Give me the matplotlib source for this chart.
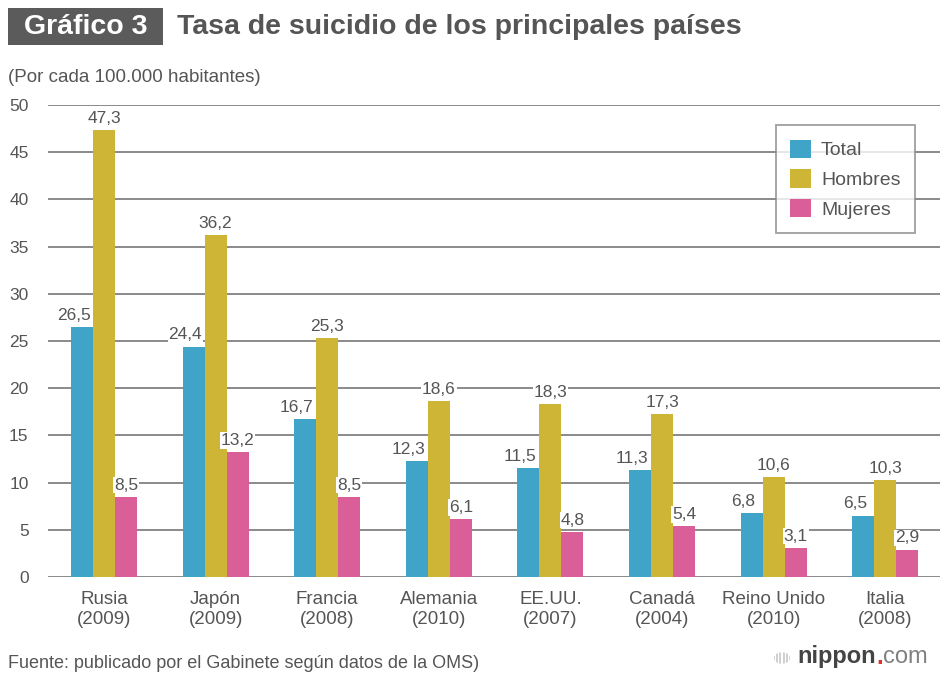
import matplotlib
matplotlib.use("Agg")
import matplotlib.pyplot as plt
from matplotlib.patches import Rectangle, Circle
import numpy as np

plt.rcParams['font.family'] = ['Liberation Sans', 'DejaVu Sans']

# data
paises = ["Rusia\n(2009)", "Japón\n(2009)", "Francia\n(2008)", "Alemania\n(2010)",
          "EE.UU.\n(2007)", "Canadá\n(2004)", "Reino Unido\n(2010)", "Italia\n(2008)"]
total = [26.5, 24.4, 16.7, 12.3, 11.5, 11.3, 6.8, 6.5]
hombres = [47.3, 36.2, 25.3, 18.6, 18.3, 17.3, 10.6, 10.3]
mujeres = [8.5, 13.2, 8.5, 6.1, 4.8, 5.4, 3.1, 2.9]
yticks = [0, 5, 10, 15, 20, 25, 30, 35, 40, 45, 50]

c_total = "#40a4c8"
c_hom = "#ceb535"
c_muj = "#da5f99"
gris = "#555555"

fig = plt.figure(figsize=(9.41, 6.75), dpi=100)
ax = fig.add_axes([48/941, 98/675, 892/941, 472/675])

x = np.arange(len(paises))
w = 0.197
series = [(total, c_total, "Total", -w, -6), (hombres, c_hom, "Hombres", 0, 0),
          (mujeres, c_muj, "Mujeres", w, 0)]
for vals, col, lab, off, dx in series:
    bars = ax.bar(x + off, vals, width=w, color=col, label=lab, zorder=3)
    for b, v in zip(bars, vals):
        ax.annotate(f"{v:.1f}".replace(".", ","), (b.get_x() + b.get_width()/2, v),
                    xytext=(dx, 3), textcoords="offset points", ha="center", va="bottom",
                    fontsize=12.5, color=gris, zorder=4,
                    bbox=dict(boxstyle="square,pad=0.05", fc="white", ec="none"))

ax.set_xlim(-0.502, 7.49)
ax.set_ylim(0, 50)
ax.set_yticks(yticks)
ax.set_xticks(x)
ax.set_xticklabels(paises, fontsize=13.5, color=gris, linespacing=1.25)
ax.tick_params(axis="y", length=0, pad=14, labelsize=12.5, labelcolor=gris)
ax.tick_params(axis="x", length=0, pad=10)
ax.grid(axis="y", color="#8a8a8a", linewidth=1.4, zorder=1)
for s in ax.spines.values():
    s.set_visible(False)

leg = ax.legend(loc="upper right", bbox_to_anchor=((915 - 48)/892, (577 - 125)/472),
                bbox_transform=ax.transAxes, borderaxespad=0, fontsize=14, frameon=True,
                fancybox=False, edgecolor="#888888", handlelength=1.08, handleheight=1.08,
                labelspacing=0.5, borderpad=0.75, handletextpad=0.5, labelcolor=gris)
leg.get_frame().set_linewidth(1.3)
leg.set_zorder(5)

# header
fig.patches.append(Rectangle((8/941, 1 - 45/675), 155/941, 37/675, transform=fig.transFigure,
                             facecolor="#5b5b5b", edgecolor="none"))
fig.text(86/941, 1 - 27/675, "Gráfico 3", ha="center", va="center", color="white",
         fontsize=20.5, fontweight="bold")
fig.text(177/941, 1 - 27/675, "Tasa de suicidio de los principales países", ha="left",
         va="center", color=gris, fontsize=20.5, fontweight="bold")
fig.text(8/941, 1 - 78/675, "(Por cada 100.000 habitantes)", ha="left", va="center",
         color=gris, fontsize=13.5)
fig.text(8/941, 1 - 663/675, "Fuente: publicado por el Gabinete según datos de la OMS)",
         ha="left", va="center", color=gris, fontsize=13)

# logo
fig.patches.append(Circle((782/941, 1 - 658/675), 8/941, transform=fig.transFigure,
                          facecolor="#d0d0d0", edgecolor="none"))
for k in range(-2, 3):
    fig.patches.append(Rectangle(((782 + 3.2*k - 0.6)/941, (675 - 668)/675), 1.2/941, 20/675,
                                 transform=fig.transFigure, facecolor="white", edgecolor="none"))
t1 = fig.text(797/941, 1 - 657/675, "nippon", ha="left", va="center", color="#444444",
              fontsize=17, fontweight="bold")
fig.canvas.draw()
r = fig.canvas.get_renderer()
e1 = t1.get_window_extent(r)
t2 = fig.text(e1.x1/941 + 0.5/941, 1 - 657/675, ".", ha="left", va="center", color="#e03030",
              fontsize=17, fontweight="bold")
e2 = t2.get_window_extent(r)
fig.text(e2.x1/941 + 0.5/941, 1 - 657/675, "com", ha="left", va="center", color="#808080",
         fontsize=17)

fig.savefig("out.png", dpi=100)
